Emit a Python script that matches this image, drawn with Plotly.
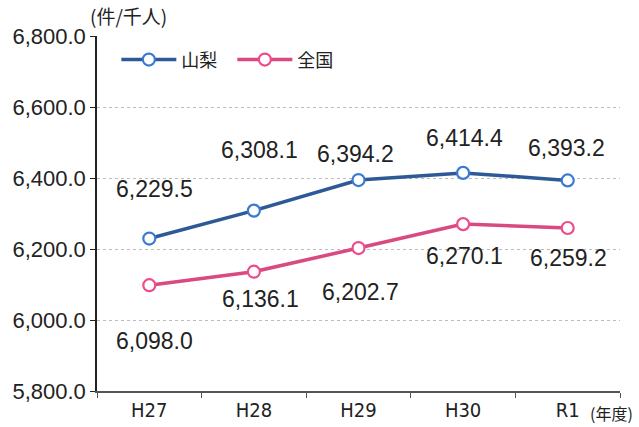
import plotly.graph_objects as go

years = ["H27", "H28", "H29", "H30", "R1"]
yamanashi = [6229.5, 6308.1, 6394.2, 6414.4, 6393.2]
national = [6098.0, 6136.1, 6202.7, 6270.1, 6259.2]
y_ticks = [5800, 6000, 6200, 6400, 6600, 6800]
y_tick_text = ["5,800.0", "6,000.0", "6,200.0", "6,400.0", "6,600.0", "6,800.0"]

# label offsets (px)
yam_shift = [(5, 50), (6, 61), (-3, 26), (1, 35), (-1, 32)]
nat_shift = [(5, -56), (7, -27), (2, -44), (1, -32), (1, -30)]

FONT = "Liberation Sans, Arial, Noto Sans CJK JP, sans-serif"
CJK = "Noto Sans CJK JP, sans-serif"

fig = go.Figure()
fig.add_trace(go.Scatter(
    x=years, y=yamanashi, name="山梨", mode="lines+markers",
    line=dict(color="#2d5a96", width=3.5),
    marker=dict(symbol="circle", size=12, color="white",
                line=dict(color="#3a7ad0", width=2.2)),
))
fig.add_trace(go.Scatter(
    x=years, y=national, name="全国", mode="lines+markers",
    line=dict(color="#d84a80", width=3.5),
    marker=dict(symbol="circle", size=12, color="white",
                line=dict(color="#ee4a8c", width=2.2)),
))

for x, v, (dx, dy) in zip(years, yamanashi, yam_shift):
    fig.add_annotation(x=x, y=v, text=f"{v:,.1f}", showarrow=False,
                       xshift=dx, yshift=dy,
                       font=dict(family=FONT, size=23, color="#222"))
for x, v, (dx, dy) in zip(years, national, nat_shift):
    fig.add_annotation(x=x, y=v, text=f"{v:,.1f}", showarrow=False,
                       xshift=dx, yshift=dy,
                       font=dict(family=FONT, size=23, color="#222"))

fig.add_annotation(xref="paper", yref="paper", x=-0.017, y=1.0, yshift=21,
                   xanchor="left", yanchor="middle", text="(件/千人)",
                   showarrow=False, font=dict(family=CJK, size=19, color="#222"))
fig.add_annotation(xref="paper", yref="paper", x=0.938, y=0, yshift=-22,
                   xanchor="left", yanchor="middle", text="(年度)",
                   showarrow=False, font=dict(family=CJK, size=16, color="#222"))

fig.update_layout(
    width=639, height=427,
    margin=dict(l=97, r=19, t=36, b=36),
    paper_bgcolor="white", plot_bgcolor="white",
    showlegend=True,
    legend=dict(orientation="h", x=0.037, y=0.985, xanchor="left", yanchor="top",
                font=dict(family=CJK, size=18, color="#222"),
                bgcolor="rgba(0,0,0,0)", itemwidth=55, entrywidth=46,
                entrywidthmode="pixels", tracegroupgap=0),
    xaxis=dict(
        type="category", range=[-0.5, 4.5], automargin=False,
        showline=True, linecolor="#555", linewidth=1.5,
        ticks="outside", ticklen=5, tickcolor="#555",
        tickson="boundaries", showgrid=False,
        tickfont=dict(family="DejaVu Sans Condensed, Liberation Sans", size=20, color="#222"),
    ),
    yaxis=dict(
        range=[5800, 6800], tickvals=y_ticks, ticktext=y_tick_text, automargin=False,
        showline=True, linecolor="#222", linewidth=1.5,
        ticks="outside", ticklen=5, tickcolor="#222",
        showgrid=True, gridcolor="#bbb", griddash="dot", gridwidth=1,
        tickfont=dict(family=FONT, size=22, color="#222"),
        zeroline=False,
    ),
)

fig.write_html("out.html", config={"displayModeBar": False},
               post_script="document.body.style.margin='0';document.body.style.overflow='hidden';")
